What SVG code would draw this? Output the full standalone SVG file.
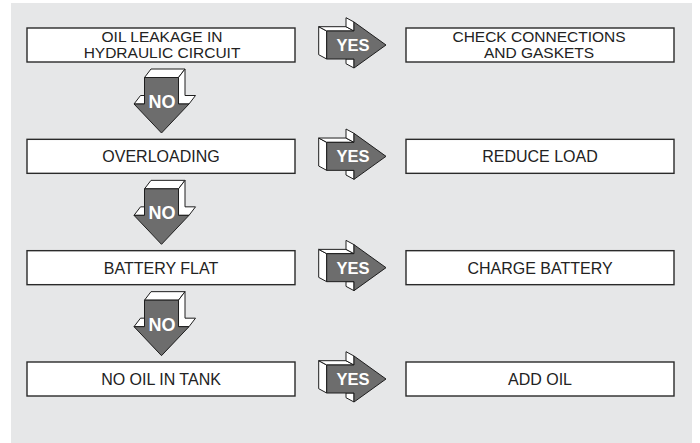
<svg xmlns="http://www.w3.org/2000/svg" xmlns:xlink="http://www.w3.org/1999/xlink" width="700" height="443" viewBox="0 0 700 443">
  <style>
    .box { fill: #ffffff; stroke: #2a2a2a; stroke-width: 1.4; }
    .lbl { font-family: "Liberation Sans", Arial, Helvetica, sans-serif; font-size: 16px; fill: #222222; text-anchor: middle; }
    .lbl2 { font-family: "Liberation Sans", Arial, Helvetica, sans-serif; font-size: 15.5px; fill: #222222; text-anchor: middle; }
    .arrowfront { fill: #6d6d6d; stroke: #1e1e1e; stroke-width: 1; stroke-linejoin: miter; }
    .face { fill: #ffffff; stroke: #1e1e1e; stroke-width: 1; stroke-linejoin: miter; }
    .yes { font-family: "Liberation Sans", Arial, Helvetica, sans-serif; font-size: 16.5px; font-weight: bold; fill: #ffffff; text-anchor: middle; }
    .no { font-family: "Liberation Sans", Arial, Helvetica, sans-serif; font-size: 18px; font-weight: bold; fill: #ffffff; text-anchor: middle; }
  </style>
  <defs>
    <!-- NO arrow: relative to B (bottom of box above) -->
    <g id="noArrow">
      <polygon class="face" points="144.5,15.5 151,7 185,7 178.5,15.5"/>
      <polygon class="face" points="178.5,15.5 185,7 185,33.5 195.5,33.5 189,42 178.5,42"/>
      <polygon class="face" points="134,42 140.5,33.5 144.5,33.5 144.5,42"/>
      <polygon class="arrowfront" points="144.5,15.5 178.5,15.5 178.5,42 189,42 161.5,71 134,42 144.5,42"/>
    </g>
    <!-- YES arrow: relative to row centre -->
    <g id="yesArrow">
      <polygon class="face" points="326.7,-14 318.7,-18.3 318.7,9.7 326.7,14"/>
      <polygon class="face" points="318.7,-18.3 346,-18.3 354,-14 326.7,-14"/>
      <polygon class="face" points="346,-18.3 346,-27.3 354,-23 354,-14"/>
      <polygon class="face" points="346,14 354,14 354,23 346,18.7"/>
      <polygon class="arrowfront" points="326.7,-14 354,-14 354,-23 386,0 354,23 354,14 326.7,14"/>
    </g>
  </defs>

  <rect x="11" y="3" width="681" height="440" fill="#e6e7e8"/>

  <g id="connectors">
    <g id="yes1"><use xlink:href="#yesArrow" href="#yesArrow" y="45"/><text class="yes" x="353" y="51">YES</text></g>
    <g id="yes2"><use xlink:href="#yesArrow" href="#yesArrow" y="156.33"/><text class="yes" x="353" y="162.33">YES</text></g>
    <g id="yes3"><use xlink:href="#yesArrow" href="#yesArrow" y="267.67"/><text class="yes" x="353" y="273.67">YES</text></g>
    <g id="yes4"><use xlink:href="#yesArrow" href="#yesArrow" y="379"/><text class="yes" x="353" y="385">YES</text></g>
    <g id="no1"><use xlink:href="#noArrow" href="#noArrow" y="62"/><text class="no" x="162" y="108">NO</text></g>
    <g id="no2"><use xlink:href="#noArrow" href="#noArrow" y="173.33"/><text class="no" x="162" y="219.33">NO</text></g>
    <g id="no3"><use xlink:href="#noArrow" href="#noArrow" y="284.67"/><text class="no" x="162" y="330.67">NO</text></g>
  </g>

  <g id="q1">
    <rect class="box" x="27" y="28" width="268" height="34"/>
    <text class="lbl2" x="162" y="42">OIL LEAKAGE IN</text>
    <text class="lbl2" x="162" y="58.3">HYDRAULIC CIRCUIT</text>
  </g>
  <g id="a1">
    <rect class="box" x="406" y="28" width="268" height="34"/>
    <text class="lbl2" x="539" y="42">CHECK CONNECTIONS</text>
    <text class="lbl2" x="539" y="58.3">AND GASKETS</text>
  </g>
  <g id="q2">
    <rect class="box" x="27" y="139.33" width="268" height="34"/>
    <text class="lbl" x="161" y="162.33">OVERLOADING</text>
  </g>
  <g id="a2">
    <rect class="box" x="406" y="139.33" width="268" height="34"/>
    <text class="lbl" x="540" y="162.33">REDUCE LOAD</text>
  </g>
  <g id="q3">
    <rect class="box" x="27" y="250.67" width="268" height="34"/>
    <text class="lbl" x="161" y="273.67">BATTERY FLAT</text>
  </g>
  <g id="a3">
    <rect class="box" x="406" y="250.67" width="268" height="34"/>
    <text class="lbl" x="540" y="273.67">CHARGE BATTERY</text>
  </g>
  <g id="q4">
    <rect class="box" x="27" y="362" width="268" height="34"/>
    <text class="lbl" x="161" y="385">NO OIL IN TANK</text>
  </g>
  <g id="a4">
    <rect class="box" x="406" y="362" width="268" height="34"/>
    <text class="lbl" x="540" y="385">ADD OIL</text>
  </g>
</svg>
